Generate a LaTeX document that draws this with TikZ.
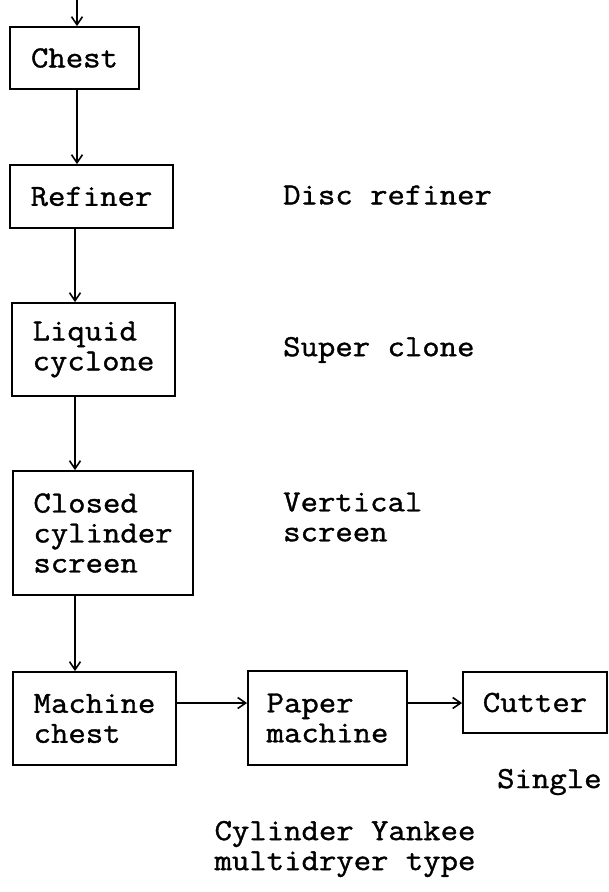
\documentclass[tikz,border=0pt]{standalone}
\usepackage{fontspec}
\setmonofont{Latin Modern Mono}[FakeStretch=1.1, FakeBold=1.2]
\usetikzlibrary{arrows.meta}

\tikzset{
  stage/.style={draw, line width=1.8pt, inner sep=0pt, align=left,
    font=\ttfamily\fontsize{30.7}{30}\selectfont},
  note/.style={inner sep=0pt, align=left,
    font=\ttfamily\fontsize{30.7}{30}\selectfont},
  flow/.style={line width=1.8pt,
    -{Straight Barb[length=8pt,width=11pt,line width=1.6pt]}}
}

\begin{document}
\begin{tikzpicture}[x=1pt,y=-1pt]
  \useasboundingbox[fill=white] (0,0) rectangle (609,892);

  % main line of process stages (left column)
  \node[stage, minimum width=129pt, minimum height=62pt]  (chest)   at (74.5,58)   {Chest};
  \node[stage, minimum width=163pt, minimum height=63pt]  (refiner) at (91.5,196.5) {Refiner};
  \node[stage, minimum width=163pt, minimum height=93pt]  (cyclone) at (93.5,349.5) {Liquid\\cyclone};
  \node[stage, minimum width=180pt, minimum height=124pt] (screen)  at (103,533)   {Closed\\cylinder\\screen};
  \node[stage, minimum width=163pt, minimum height=93pt]  (mchest)  at (94.5,718.5) {Machine\\chest};

  % bottom row
  \node[stage, minimum width=159pt, minimum height=94pt]  (paper)   at (327.5,718) {Paper\\machine};
  \node[stage, minimum width=144pt, minimum height=61pt]  (cutter)  at (535,702.5) {Cutter};

  % equipment notes
  \node[note, anchor=west] (disc)   at (283,195)   {Disc refiner};
  \node[note, anchor=west] (super)  at (283,350)   {Super clone};
  \node[note, anchor=west] (vert)   at (283,517)   {Vertical\\screen};
  \node[note, anchor=west] (single) at (497,782)   {Single};
  \node[note]              (yankee) at (345,849)   {Cylinder Yankee\\multidryer type};

  % connectors
  \coordinate (feed) at (77,0);
  \coordinate (axis) at (75,0);
  \draw[flow] (feed) -- (chest.north -| feed);
  \draw[flow] (chest.south -| feed) -- (refiner.north -| feed);
  \draw[flow] (refiner.south -| axis) -- (cyclone.north -| axis);
  \draw[flow] (cyclone.south -| axis) -- (screen.north -| axis);
  \draw[flow] (screen.south -| axis) -- (mchest.north -| axis);
  \draw[flow] (mchest.east |- 0,703) -- (paper.west |- 0,703);
  \draw[flow] (paper.east |- 0,703) -- (cutter.west |- 0,703);
\end{tikzpicture}
\end{document}
